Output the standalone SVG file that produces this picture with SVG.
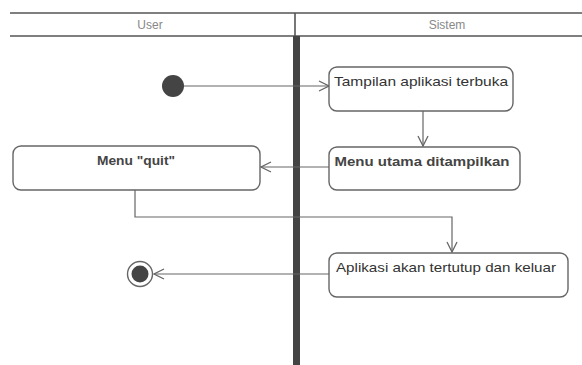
<svg xmlns="http://www.w3.org/2000/svg" width="582" height="365" viewBox="0 0 582 365">
  <defs>
    <style>
      .lane { stroke: #555; stroke-width: 1.6; fill: none; }
      .lane-title { font-family: "Liberation Sans", Arial, sans-serif; font-size: 12px; fill: #888; text-anchor: middle; }
      .box { fill: #fff; stroke: #666; stroke-width: 1.4; }
      .label { font-family: "Liberation Sans", Arial, sans-serif; font-size: 13px; fill: #333; text-anchor: middle; }
      .bold { font-weight: bold; fill: #444; }
      .edge { stroke: #666; stroke-width: 1.2; fill: none; marker-end: url(#open); }
    </style>
    <marker id="open" viewBox="0 0 12 12" refX="11" refY="6" markerWidth="12" markerHeight="12" markerUnits="userSpaceOnUse" orient="auto">
      <path d="M1,1 L11,6 L1,11" fill="none" stroke="#666" stroke-width="1.3"/>
    </marker>
  </defs>
  <rect width="582" height="365" fill="#fff"/>

  <!-- swimlane header -->
  <g id="lanes">
    <line class="lane" x1="10" y1="13" x2="582" y2="13"/>
    <line class="lane" x1="10" y1="36" x2="582" y2="36"/>
    <line class="lane" x1="295" y1="13" x2="295" y2="36"/>
    <rect x="293" y="36" width="7" height="329" fill="#444"/>
    <text class="lane-title" x="150" y="29">User</text>
    <text class="lane-title" x="447" y="29">Sistem</text>
  </g>

  <!-- connectors -->
  <g id="connectors">
    <line class="edge" x1="184" y1="86" x2="329" y2="86"/>
    <line class="edge" x1="423" y1="111" x2="423" y2="146"/>
    <line class="edge" x1="329" y1="167" x2="261" y2="167"/>
    <polyline class="edge" points="135,190 135,217 452,217 452,252"/>
    <line class="edge" x1="329" y1="274" x2="154" y2="274"/>
  </g>

  <g id="start">
    <circle cx="173" cy="86" r="11" fill="#444"/>
  </g>

  <g id="tampilan">
    <rect class="box" x="329" y="67" width="184" height="44" rx="8"/>
    <text class="label" x="421" y="86" textLength="174" lengthAdjust="spacingAndGlyphs">Tampilan aplikasi terbuka</text>
  </g>

  <g id="menu-utama">
    <rect class="box" x="329" y="147" width="191" height="43" rx="8"/>
    <text class="label bold" x="422" y="166" textLength="175" lengthAdjust="spacingAndGlyphs">Menu utama ditampilkan</text>
  </g>

  <g id="menu-quit">
    <rect class="box" x="13" y="146" width="247" height="44" rx="8"/>
    <text class="label bold" x="136" y="165" textLength="78" lengthAdjust="spacingAndGlyphs">Menu "quit"</text>
  </g>

  <g id="aplikasi-keluar">
    <rect class="box" x="329" y="253" width="239" height="44" rx="8"/>
    <text class="label" x="446" y="272" textLength="220" lengthAdjust="spacingAndGlyphs">Aplikasi akan tertutup dan keluar</text>
  </g>

  <g id="end">
    <circle cx="140" cy="274" r="12.5" fill="#fff" stroke="#666" stroke-width="1.4"/>
    <circle cx="140" cy="274" r="8.5" fill="#444"/>
  </g>
</svg>
